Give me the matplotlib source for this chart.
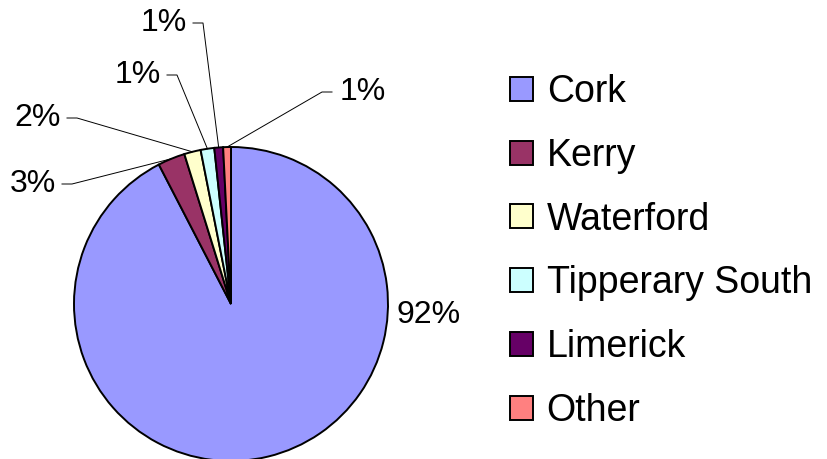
import numpy as np
import matplotlib.pyplot as plt

plt.rcParams['font.family'] = ['Liberation Sans', 'DejaVu Sans']

counties = ['Cork', 'Kerry', 'Waterford', 'Tipperary South', 'Limerick', 'Other']
shares = [92.4, 2.8, 1.7, 1.4, 0.9, 0.8]
colors = ['#9999FF', '#993366', '#FFFFCC', '#CCFFFF', '#660066', '#FF8080']

# where each label's leader line starts (pixels, y from top), and which side the text sits on
label_xy = [(400, 315), (72, 184), (77, 118), (177, 75), (203, 23), (322, 92)]
label_side = ['none', 'left', 'left', 'left', 'left', 'right']

W, H = 827, 459
fig = plt.figure(figsize=(W / 100, H / 100), dpi=100)
ax = fig.add_axes([0, 0, 1, 1])

cx, cy, r = 231, H - 304, 157
wedges, _ = ax.pie(shares, colors=colors, startangle=90, counterclock=False,
                   center=(cx, cy), radius=r, frame=True,
                   wedgeprops=dict(edgecolor='black', linewidth=1.4))
ax.set_xlim(0, W)
ax.set_ylim(0, H)
ax.axis('off')

fs = 23
for w, v, (lx, ly), side in zip(wedges, shares, label_xy, label_side):
    txt = '%.0f%%' % v
    ly = H - ly
    if side == 'none':
        ax.text(lx - 3, ly, txt, fontsize=fs, ha='left', va='center')
        continue
    mid = np.deg2rad((w.theta1 + w.theta2) / 2)
    px, py = cx + r * np.cos(mid), cy + r * np.sin(mid)
    if side == 'left':
        sx = lx - 10
        ax.text(sx - 6, ly, txt, fontsize=fs, ha='right', va='center')
    else:
        sx = lx + 10
        ax.text(sx + 8, ly, txt, fontsize=fs, ha='left', va='center')
    ax.plot([sx, lx, px], [ly, ly, py], color='black', lw=0.7)

leg = fig.legend(wedges, counties, loc='upper left', bbox_to_anchor=(510 / W, 1 - 74 / H),
                 frameon=False, fontsize=27, handlelength=0.61, handleheight=0.61,
                 handletextpad=0.37, labelspacing=0.74, borderpad=0, borderaxespad=0)
for h in leg.legend_handles:
    h.set_linewidth(1.4)
    h.set_edgecolor('black')

fig.savefig('out.png', dpi=100)
